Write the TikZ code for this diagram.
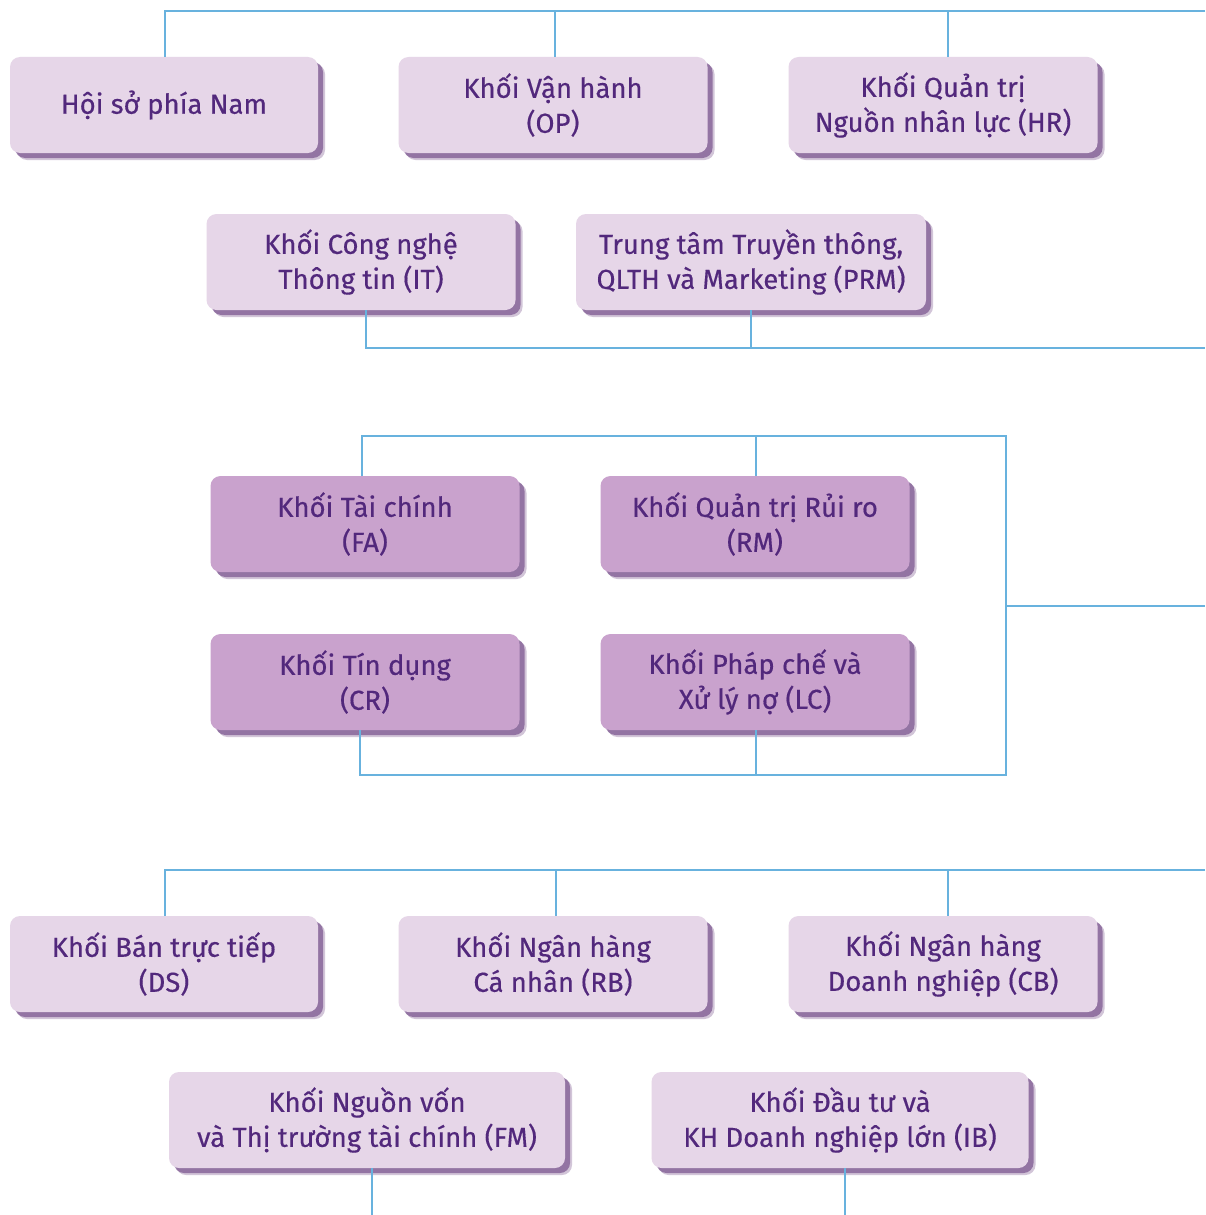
\documentclass[tikz,border=0pt]{standalone}
\usepackage{fontspec}
\setmainfont{Fira Sans}[FakeBold=0.4]
\usetikzlibrary{shadows}
\definecolor{boxlight}{HTML}{E6D6E8}
\definecolor{boxdark}{HTML}{C9A2CD}
\definecolor{txt}{HTML}{52287C}
\definecolor{conn}{HTML}{68B2DE}
\definecolor{shad}{HTML}{7F5A92}
\tikzset{
  unitbox/.style={rounded corners=10pt, minimum height=96pt, inner sep=0pt, align=center,
    text=txt, font=\fontsize{27.5}{35}\selectfont,
    general shadow={shadow xshift=7pt, shadow yshift=-7pt, fill=shad, opacity=0.35},
    drop shadow={shadow xshift=5pt, shadow yshift=-5pt, fill=shad, opacity=0.75}},
  lightbox/.style={unitbox, fill=boxlight},
  darkbox/.style={unitbox, fill=boxdark},
  link/.style={draw=conn, line width=2.5pt}
}
\begin{document}
\begin{tikzpicture}[x=1pt,y=-1pt]
\useasboundingbox[fill=white] (0,0) rectangle (1205,1215);
% group 1
\node[lightbox, minimum width=308pt] (hs) at (164,105) {Hội sở phía Nam};
\node[lightbox, minimum width=309pt] (op) at (553,105) {Khối Vận hành\\(OP)};
\node[lightbox, minimum width=309pt] (hr) at (943,105) {Khối Quản trị\\Nguồn nhân lực (HR)};
\node[lightbox, minimum width=309pt] (it) at (361,262) {Khối Công nghệ\\Thông tin (IT)};
\node[lightbox, minimum width=350pt] (prm) at (751,262) {Trung tâm Truyền thông,\\QLTH và Marketing (PRM)};
\coordinate (t1) at (165,11);
\coordinate (t1e) at (1205,11);
\draw[link] (t1e) -- (t1) -- (hs.north-|t1);
\draw[link] (555,11) -- (555,57);
\draw[link] (948,11) -- (948,57);
\coordinate (b1) at (366,348);
\coordinate (b1e) at (1205,348);
\draw[link] (it.south-|b1) -- (b1) -- (b1e);
\draw[link] (prm.south) -- (prm.south|-b1);
% group 2
\node[darkbox, minimum width=309pt] (fa) at (365,524) {Khối Tài chính\\(FA)};
\node[darkbox, minimum width=309pt] (rm) at (755,524) {Khối Quản trị Rủi ro\\(RM)};
\node[darkbox, minimum width=309pt] (cr) at (365,682) {Khối Tín dụng\\(CR)};
\node[darkbox, minimum width=309pt] (lc) at (755,682) {Khối Pháp chế và\\Xử lý nợ (LC)};
\coordinate (g2tl) at (362,436);
\coordinate (g2tr) at (1006,436);
\coordinate (g2br) at (1006,775);
\coordinate (g2bl) at (360,775);
\coordinate (g2m) at (1006,606);
\coordinate (g2e) at (1205,606);
\draw[link] (fa.north-|g2tl) -- (g2tl) -- (g2tr) -- (g2br) -- (g2bl) -- (cr.south-|g2bl);
\draw[link] (756,436) -- (756,476);
\draw[link] (756,730) -- (756,775);
\draw[link] (g2m) -- (g2e);
% group 3
\node[lightbox, minimum width=308pt] (ds) at (164,964) {Khối Bán trực tiếp\\(DS)};
\node[lightbox, minimum width=309pt] (rb) at (553,964) {Khối Ngân hàng\\Cá nhân (RB)};
\node[lightbox, minimum width=309pt] (cb) at (943,964) {Khối Ngân hàng\\Doanh nghiệp (CB)};
\node[lightbox, minimum width=396pt] (fm) at (367,1120) {Khối Nguồn vốn\\và Thị trường tài chính (FM)};
\node[lightbox, minimum width=377pt] (ib) at (840,1120) {Khối Đầu tư và\\KH Doanh nghiệp lớn (IB)};
\coordinate (t3) at (165,870);
\coordinate (t3e) at (1205,870);
\draw[link] (t3e) -- (t3) -- (ds.north-|t3);
\draw[link] (556,870) -- (556,916);
\draw[link] (948,870) -- (948,916);
\coordinate (fmb) at (372,1215);
\coordinate (ibb) at (845,1215);
\draw[link] (fm.south-|fmb) -- (fmb);
\draw[link] (ib.south-|ibb) -- (ibb);
\end{tikzpicture}
\end{document}
